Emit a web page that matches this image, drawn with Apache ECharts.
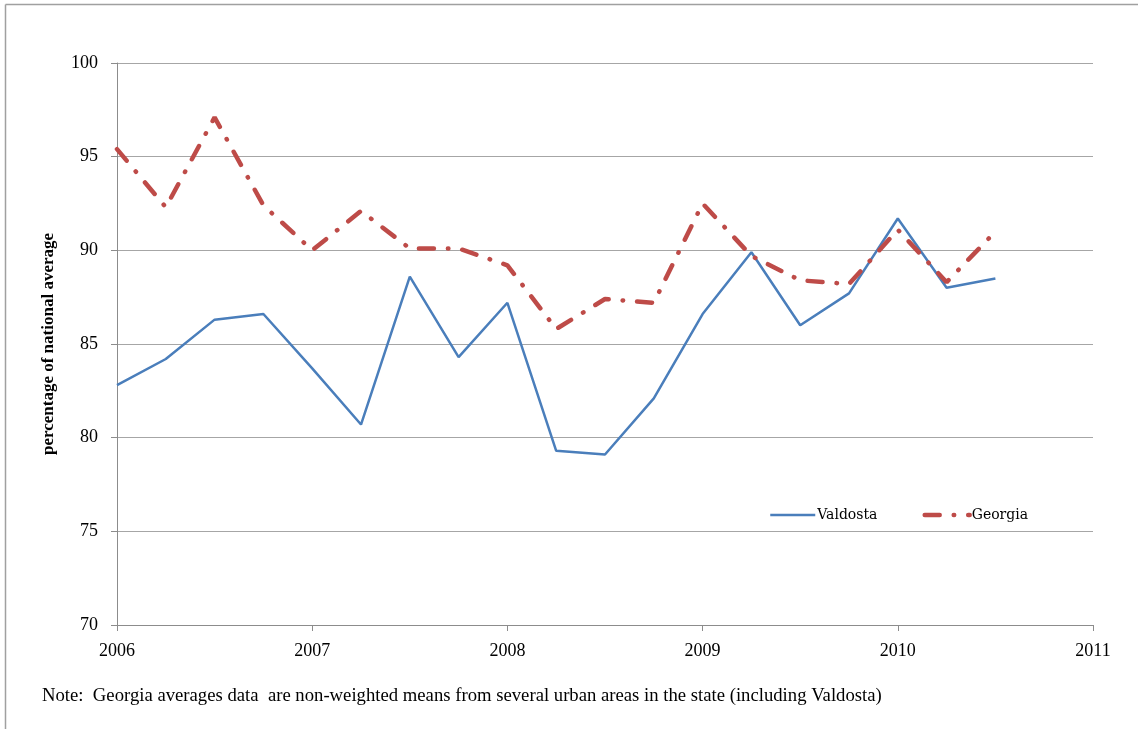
<!DOCTYPE html>
<html>
<head>
<meta charset="utf-8">
<script src="https://cdn.jsdelivr.net/npm/echarts@6/dist/echarts.min.js"></script>
<style>
html,body{margin:0;padding:0;background:#fff;}
#chart{width:1138px;height:729px;}
</style>
</head>
<body>
<div id="chart"></div>
<script>
const quarters = [2006, 2006.25, 2006.5, 2006.75, 2007, 2007.25, 2007.5, 2007.75, 2008, 2008.25, 2008.5, 2008.75, 2009, 2009.25, 2009.5, 2009.75, 2010, 2010.25, 2010.5];
const valdosta = [82.8, 84.2, 86.3, 86.6, 83.7, 80.7, 88.6, 84.3, 87.2, 79.3, 79.1, 82.1, 86.6, 89.9, 86.0, 87.7, 91.7, 88.0, 88.5];
const georgia = [95.4, 92.3, 97.1, 92.4, 90.0, 92.1, 90.1, 90.1, 89.2, 85.8, 87.4, 87.2, 92.5, 89.7, 88.4, 88.2, 91.1, 88.3, 91.0];
const seriesNames = ['Valdosta', 'Georgia'];
const yAxisTitle = 'percentage of national average';
const noteText = 'Note:  Georgia averages data  are non-weighted means from several urban areas in the state (including Valdosta)';

const chart = echarts.init(document.getElementById('chart'));
const serif = 'Liberation Serif, Times New Roman, serif';
chart.setOption({
  backgroundColor: '#fff',
  animation: false,
  grid: { left: 117, right: 45, top: 63, bottom: 104 },
  xAxis: {
    type: 'value', min: 2006, max: 2011, interval: 1,
    axisLine: { show: true, lineStyle: { color: '#8c8c8c', width: 1 } },
    axisTick: { show: true, length: 6, lineStyle: { color: '#8c8c8c' } },
    splitLine: { show: false },
    axisLabel: { color: '#000', fontFamily: serif, fontSize: 18, margin: 17, formatter: v => String(v) }
  },
  yAxis: {
    type: 'value', min: 70, max: 100, interval: 5,
    name: yAxisTitle, nameLocation: 'middle', nameGap: 60,
    nameTextStyle: { color: '#000', fontFamily: serif, fontWeight: 'bold', fontSize: 17 },
    axisLine: { show: true, lineStyle: { color: '#8c8c8c', width: 1 } },
    axisTick: { show: true, length: 6, inside: false, lineStyle: { color: '#8c8c8c' } },
    splitLine: { show: true, lineStyle: { color: '#a6a6a6', width: 1 } },
    axisLabel: { color: '#000', fontFamily: serif, fontSize: 18, margin: 19 }
  },
  legend: {
    left: 764, top: 503, itemWidth: 45, itemHeight: 14, itemGap: 45,
    data: [
      { name: seriesNames[0], lineStyle: { width: 2.5 } },
      { name: seriesNames[1], lineStyle: { width: 4.5 } }
    ],
    itemStyle: { opacity: 0 },
    textStyle: { color: '#000', fontFamily: 'DejaVu Serif, serif', fontSize: 14, padding: [0,0,0,-3] }
  },
  series: [
    {
      name: seriesNames[0], type: 'line', symbol: 'none',
      data: quarters.map((q, i) => [q, valdosta[i]]),
      lineStyle: { color: '#4a7ebb', width: 2.5 },
      itemStyle: { color: '#4a7ebb' }
    },
    {
      name: seriesNames[1], type: 'line', symbol: 'none',
      data: quarters.map((q, i) => [q, georgia[i]]),
      lineStyle: { color: '#be4b48', width: 4.5, type: [15, 14, 0.5, 14], cap: 'round' },
      itemStyle: { color: '#be4b48' }
    }
  ],
  graphic: [
    { type: 'line', shape: { x1: 5.5, y1: 4.5, x2: 1138, y2: 4.5 }, style: { stroke: '#a0a0a0', lineWidth: 1.5 } },
    { type: 'line', shape: { x1: 5.5, y1: 4.5, x2: 5.5, y2: 729 }, style: { stroke: '#a0a0a0', lineWidth: 1.5 } },
    { type: 'text', left: 42, top: 687, style: { text: noteText, fill: '#000', font: '18.7px ' + serif } }
  ]
});
</script>
</body>
</html>
